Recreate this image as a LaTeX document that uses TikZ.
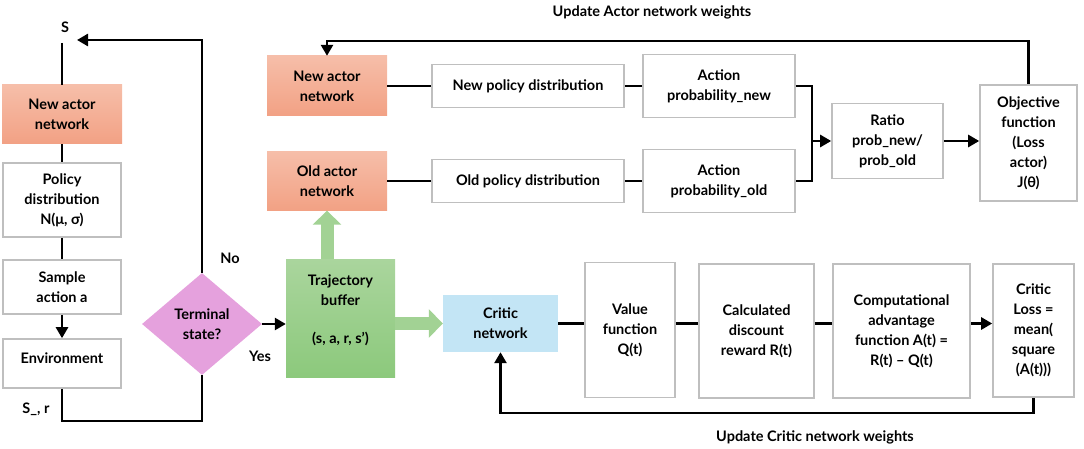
\documentclass[tikz,border=0pt]{standalone}
\usepackage{fontspec}
\setmainfont{Lato}
\usetikzlibrary{arrows.meta,shapes.geometric}
\definecolor{salmonA}{HTML}{F6BEA9}
\definecolor{salmonB}{HTML}{F2A184}
\definecolor{greenA}{HTML}{AAD59D}
\definecolor{greenB}{HTML}{8CC97C}
\definecolor{greenarrow}{HTML}{A2D294}
\definecolor{criticblue}{HTML}{C3E5F5}
\definecolor{termpink}{HTML}{E5A1DD}
\definecolor{boxgray}{HTML}{BFBFBF}
\begin{document}
\begin{tikzpicture}[x=1pt,y=-1pt,
  every node/.style={font=\fontsize{14.5}{20}\selectfont\bfseries,align=center},
  blk/.style={draw=boxgray,line width=1.6pt,fill=white,inner sep=2pt},
  actr/.style={top color=salmonA,bottom color=salmonB,inner sep=2pt},
  ln/.style={line width=2.6pt},
  arr/.style={line width=2.6pt,-{Triangle[length=11pt,width=12pt]}},
  fat/.style={line width=13pt,draw=greenarrow,-{Triangle[length=14pt,width=28pt]}}]
 \useasboundingbox (0,0) rectangle (1084,449);
 % left loop
 \node (s) at (65,27) {S};
 \coordinate (stop) at (62,43);
 \coordinate (stip) at (77,40);
 \node[actr,minimum width=120pt,minimum height=59pt] (lnet) at (62,114.5) {New actor\\network};
 \node[blk,minimum width=118pt,minimum height=74pt] (pdist) at (62,200) {Policy\\distribution\\N(μ, σ)};
 \node[blk,minimum width=118pt,minimum height=54pt] (samp) at (62,287) {Sample\\action a};
 \node[blk,minimum width=118pt,minimum height=49pt,text depth=10pt] (env) at (62,363.5) {Environment};
 \node (sr) at (36,409) {S\_, r};
 \node[diamond,fill=termpink,minimum width=120pt,minimum height=102pt,inner sep=0pt] (term) at (202,324) {Terminal\\state?};
 \node (no) at (230,258) {No};
 \node (yes) at (260,356) {Yes};
 \draw[ln] (stop) -- (lnet.north) (lnet.south) -- (pdist.north) (pdist.south) -- (samp.north);
 \draw[arr] (samp.south) -- (env.north);
 \draw[ln] (env.south) -- ++(0,32) -| (term.south);
 \draw[arr] (term.north) |- (stip);
 % buffer and critic path
 \node[top color=greenA,bottom color=greenB,minimum width=109pt,minimum height=118pt,text depth=18pt] (buf) at (340.5,318) {Trajectory\\buffer\\[18pt](s, a, r, s’)};
 \draw[arr] (term.east) -- (buf.west |- term.east);
 \node[fill=criticblue,minimum width=115pt,minimum height=57pt] (critic) at (500.5,323.5) {Critic\\network};
 \node[blk,minimum width=90pt,minimum height=135pt] (vfun) at (630,330) {Value\\function\\Q(t)};
 \node[blk,minimum width=115pt,minimum height=134pt] (disc) at (756.5,331) {Calculated\\discount\\reward R(t)};
 \node[blk,minimum width=137pt,minimum height=134pt] (adv) at (901.5,331) {Computational\\advantage\\function A(t) =\\R(t) – Q(t)};
 \node[blk,minimum width=81pt,minimum height=133pt] (closs) at (1033.5,330.5) {Critic\\Loss =\\mean(\\square\\(A(t)))};
 \draw[ln] (critic.east) -- (vfun.west |- critic.east);
 \draw[ln] (vfun.east |- critic.east) -- (disc.west |- critic.east);
 \draw[ln] (disc.east |- critic.east) -- (adv.west |- critic.east);
 \draw[arr] (adv.east |- critic.east) -- (closs.west |- critic.east);
 \draw[arr] (closs.south) -- ++(0,15) -| (critic.south);
 \node (upc) at (815,437) {Update Critic network weights};
 % actor path
 \node[actr,minimum width=120pt,minimum height=60pt] (newnet) at (327,86) {New actor\\network};
 \node[actr,minimum width=120pt,minimum height=59pt] (oldnet) at (327,181) {Old actor\\network};
 \node[blk,minimum width=192pt,minimum height=43pt] (npol) at (528,86) {New policy distribution};
 \node[blk,minimum width=192pt,minimum height=43pt] (opol) at (528,181) {Old policy distribution};
 \node[blk,minimum width=152pt,minimum height=63pt] (pnew) at (719,86) {Action\\probability\_new};
 \node[blk,minimum width=152pt,minimum height=63pt] (pold) at (719,181) {Action\\probability\_old};
 \node[blk,minimum width=111pt,minimum height=75pt] (ratio) at (887.5,141) {Ratio\\prob\_new/\\prob\_old};
 \node[blk,minimum width=97pt,minimum height=116pt] (obj) at (1028.5,143) {Objective\\function\\(Loss\\actor)\\J(θ)};
 \coordinate (jn) at (812,141);
 \draw[ln] (newnet) -- (npol) (npol) -- (pnew);
 \draw[ln] (oldnet) -- (opol) (opol) -- (pold);
 \draw[ln] (pnew.east) -| (jn) |- (pold.east);
 \draw[arr] (jn) -- (ratio.west);
 \draw[arr] (ratio.east) -- (obj.west |- ratio.east);
 \draw[arr] (obj.north) -- ++(0,-43) -| (newnet.north);
 \node (upa) at (652,12) {Update Actor network weights};
 % fat arrows out of the buffer
 \draw[fat] (oldnet.south |- buf.north) -- (oldnet.south);
 \draw[fat] (buf.east |- critic.west) -- (critic.west);
\end{tikzpicture}
\end{document}
